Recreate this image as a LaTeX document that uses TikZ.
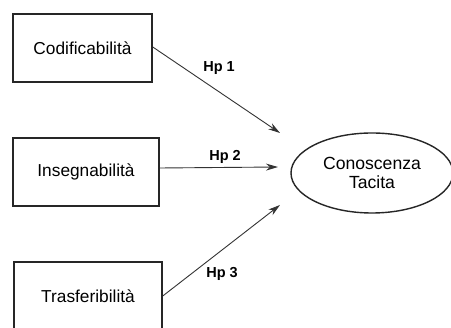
\documentclass[tikz,border=0pt]{standalone}
\usepackage{fontspec}
\setmainfont{Liberation Sans}
\usetikzlibrary{shapes.geometric,arrows.meta}
\begin{document}
\begin{tikzpicture}[x=1pt,y=-1pt,
  box/.style={draw=black!85,line width=1.5pt,minimum height=68pt,inner sep=0pt,font=\fontsize{17.3}{19}\selectfont},
  conn/.style={draw=black!80,line width=0.9pt,-{Stealth[length=12pt,width=7pt]}},
  hp/.style={font=\bfseries\fontsize{14.5}{16}\selectfont}]
\clip (0,0) rectangle (451,328);
\fill[white] (0,0) rectangle (451,328);
\node[box,minimum width=139pt] (c) at (82.5,48) {Codificabilità};
\node[box,minimum width=146pt] (i) at (86,172) {Insegnabilità};
\node[box,minimum width=148pt] (t) at (88,296) {Trasferibilità};
\node[draw=black!85,line width=1.4pt,ellipse,minimum width=162pt,minimum height=80pt,inner sep=0pt,align=center,font=\fontsize{17.6}{19.5}\selectfont] (k) at (372,173) {Conoscenza\\Tacita};
\coordinate (e1) at (280,133);
\coordinate (e2) at (278,167);
\coordinate (e3) at (280,205);
\draw[conn] (c.east) ++(0,-1) -- (e1);
\draw[conn] (i.east) ++(0,-4) -- (e2);
\draw[conn] (t.east) -- (e3);
\node[hp] (h1) at (219,68) {Hp 1};
\node[hp] (h2) at (225,157) {Hp 2};
\node[hp] (h3) at (222,274) {Hp 3};
\end{tikzpicture}
\end{document}
